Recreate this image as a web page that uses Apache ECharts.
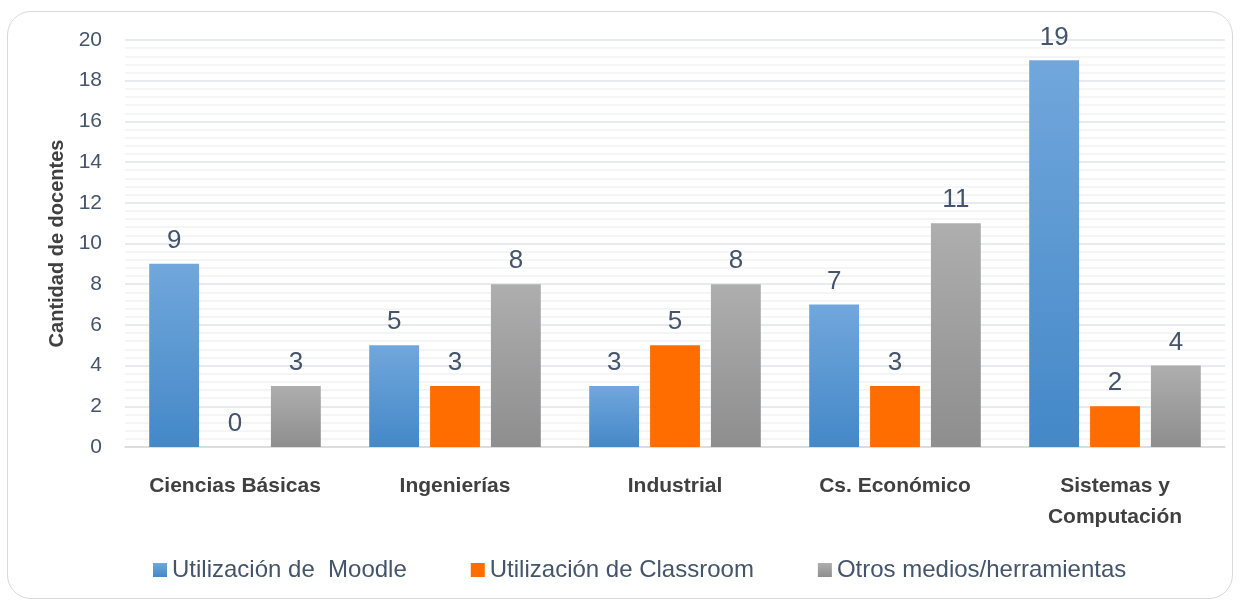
<!DOCTYPE html>
<html>
<head>
<meta charset="utf-8">
<script src="https://cdn.jsdelivr.net/npm/echarts@6/dist/echarts.min.js"></script>
<style>
  html, body { margin: 0; padding: 0; background: #fff; }
  .card {
    position: absolute; left: 7px; top: 11px; width: 1226px; height: 588px;
    border: 1px solid #d9d9d9; border-radius: 24px; box-sizing: border-box;
  }
  #chart { position: absolute; left: 0; top: 0; width: 1242px; height: 605px; }
</style>
</head>
<body>
<div class="card"></div>
<div id="chart"></div>
<script>
const categories = ["Ciencias Básicas", "Ingenierías", "Industrial", "Cs. Económico", "Sistemas y\nComputación"];
const moodle = [9, 5, 3, 7, 19];
const classroom = [0, 3, 5, 3, 2];
const otros = [3, 8, 8, 11, 4];
const seriesNames = ["Utilización de  Moodle", "Utilización de Classroom", "Otros medios/herramientas"];

const font = "'Liberation Sans', 'Noto Sans', sans-serif";
const textColor = "#44546a";

//颜色渐变
function grad(top, bottom) {
  return new echarts.graphic.LinearGradient(0, 0, 0, 1, [
    { offset: 0, color: top },
    { offset: 1, color: bottom }
  ]);
}

const myChart = echarts.init(document.getElementById("chart"));

const labelCfg = {
  show: true,
  position: "top",
  distance: 10,
  fontSize: 26,
  color: textColor,
  fontFamily: font
};

const option = {
  animation: false,
  textStyle: { fontFamily: font },
  grid: { left: 125, right: 17, top: 40, bottom: 158 },
  legend: {
    bottom: 18,
    left: 148,
    itemWidth: 14,
    itemHeight: 14,
    itemGap: 64,
    icon: "rect",
    textStyle: { fontSize: 24, color: textColor, fontFamily: font },
    data: seriesNames
  },
  xAxis: {
    type: "category",
    data: categories,
    axisLine: { lineStyle: { color: "#d9d9d9", width: 1.5 } },
    axisTick: { show: false },
    axisLabel: {
      interval: 0,
      fontSize: 21,
      fontWeight: "bold",
      color: "#404040",
      margin: 24,
      lineHeight: 31,
      fontFamily: font
    }
  },
  yAxis: {
    type: "value",
    min: 0,
    max: 20,
    interval: 2,
    name: "Cantidad de docentes",
    nameLocation: "middle",
    nameGap: 58,
    nameTextStyle: { fontSize: 20, fontWeight: "bold", color: "#404040", fontFamily: font },
    axisLine: { show: false },
    axisTick: { show: false },
    axisLabel: { fontSize: 21, color: textColor, margin: 23, fontFamily: font },
    splitLine: { lineStyle: { color: "#dfe3ea", width: 1.5 } },
    minorTick: { show: false, splitNumber: 5 },
    minorSplitLine: { show: true, lineStyle: { color: "#f1f2f4", width: 1.5 } }
  },
  series: [
    {
      name: seriesNames[0],
      type: "bar",
      data: moodle,
      barGap: "22%",
      barCategoryGap: "22%",
      itemStyle: { color: grad("#71a7dc", "#4488c8") },
      label: labelCfg
    },
    {
      name: seriesNames[1],
      type: "bar",
      data: classroom,
      itemStyle: { color: "#ff6d00" },
      label: labelCfg
    },
    {
      name: seriesNames[2],
      type: "bar",
      data: otros,
      itemStyle: { color: grad("#aeaeae", "#8e8e8e") },
      label: labelCfg
    }
  ]
};
myChart.setOption(option);
</script>
</body>
</html>
